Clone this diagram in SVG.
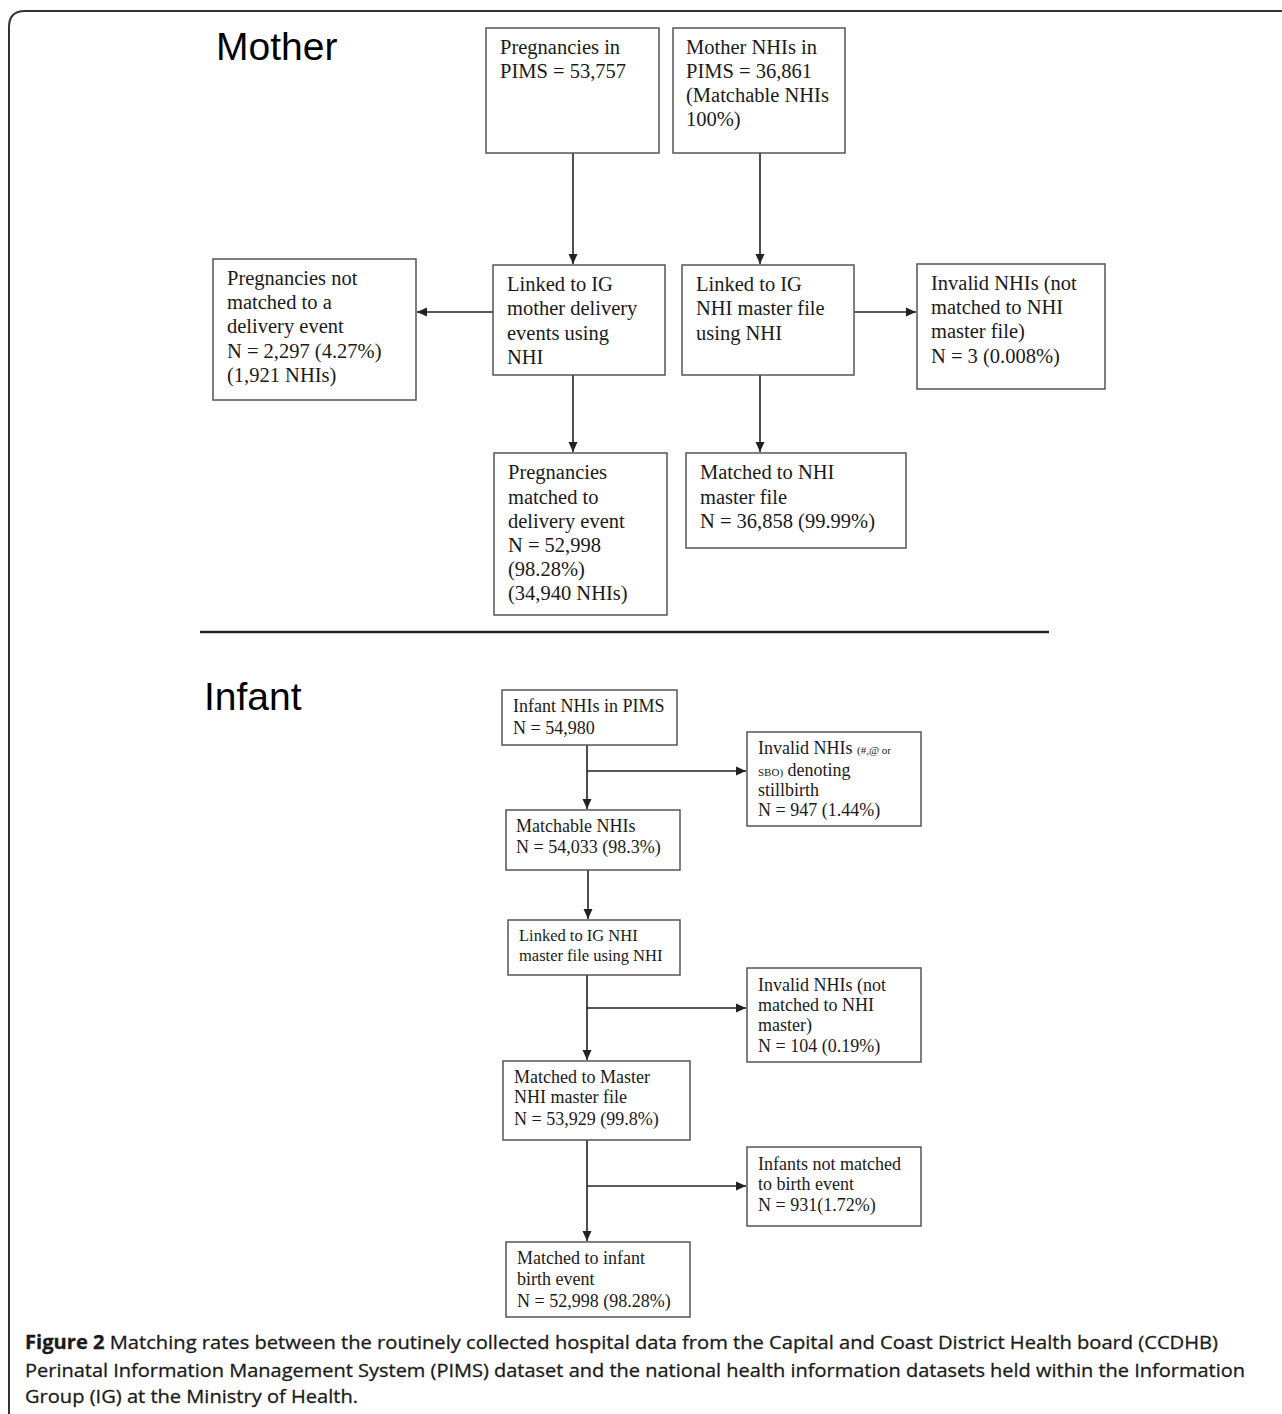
<svg xmlns="http://www.w3.org/2000/svg" width="1282" height="1414" viewBox="0 0 1282 1414">
<style>
.box{fill:#fff;stroke:#555;stroke-width:1.5}
.t{font-family:"Liberation Serif","Times New Roman",serif;font-size:20.5px;fill:#1a1a1a}
.ti{font-family:"Liberation Serif","Times New Roman",serif;font-size:18px;fill:#1a1a1a}
.ts{font-family:"Liberation Serif","Times New Roman",serif;font-size:16.5px;fill:#1a1a1a}
.sm{font-size:11px}
.h{font-family:"Liberation Sans",Arial,sans-serif;font-size:39px;fill:#000}
.cap{font-family:"Open Sans","Liberation Sans",sans-serif;font-size:19px;fill:#1a1a1a;stroke:#1a1a1a;stroke-width:0.3}
.c{fill:none;stroke:#222;stroke-width:1.6}
</style>
<defs>
<marker id="ah" viewBox="0 0 10 10" refX="10" refY="5" markerWidth="10" markerHeight="10" markerUnits="userSpaceOnUse" orient="auto">
<path d="M0,0.5 L10,5 L0,9.5 Z" fill="#222"/>
</marker>
<filter id="blur" x="-5%" y="-300%" width="110%" height="700%"><feGaussianBlur stdDeviation="1.5"/></filter>
</defs>
<rect width="1282" height="1414" fill="#fff"/>
<path d="M9,1414 L9,27 Q9,11 25,11 L1282,11" fill="none" stroke="#333" stroke-width="2"/>

<text class="h" x="216" y="60">Mother</text>
<text class="h" x="204" y="710">Infant</text>

<g id="separator">
<line x1="203" y1="637" x2="1051" y2="637" stroke="#999" stroke-width="4" opacity="0.7" filter="url(#blur)"/>
<line x1="200" y1="632" x2="1049" y2="632" stroke="#222" stroke-width="2.5"/>
</g>

<g id="connectors">
<line class="c" x1="573" y1="153" x2="573" y2="264" marker-end="url(#ah)"/>
<line class="c" x1="760" y1="153" x2="760" y2="264" marker-end="url(#ah)"/>
<line class="c" x1="493" y1="312" x2="417" y2="312" marker-end="url(#ah)"/>
<line class="c" x1="854" y1="312" x2="916" y2="312" marker-end="url(#ah)"/>
<line class="c" x1="573" y1="375" x2="573" y2="452" marker-end="url(#ah)"/>
<line class="c" x1="760" y1="375" x2="760" y2="452" marker-end="url(#ah)"/>

<line class="c" x1="587" y1="745" x2="587" y2="809" marker-end="url(#ah)"/>
<line class="c" x1="587" y1="771" x2="746" y2="771" marker-end="url(#ah)"/>
<line class="c" x1="588" y1="870" x2="588" y2="919" marker-end="url(#ah)"/>
<line class="c" x1="587" y1="975" x2="587" y2="1060" marker-end="url(#ah)"/>
<line class="c" x1="587" y1="1008" x2="746" y2="1008" marker-end="url(#ah)"/>
<line class="c" x1="587" y1="1140" x2="587" y2="1241" marker-end="url(#ah)"/>
<line class="c" x1="587" y1="1186" x2="746" y2="1186" marker-end="url(#ah)"/>
</g>

<g id="m-pregnancies">
<rect class="box" x="486" y="28" width="173" height="125"/>
<text class="t" x="500" y="54">Pregnancies in</text>
<text class="t" x="500" y="78">PIMS = 53,757</text>
</g>
<g id="m-nhis">
<rect class="box" x="673" y="28" width="172" height="125"/>
<text class="t" x="686" y="54">Mother NHIs in</text>
<text class="t" x="686" y="78">PIMS = 36,861</text>
<text class="t" x="686" y="102">(Matchable NHIs</text>
<text class="t" x="686" y="126">100%)</text>
</g>
<g id="m-linked-delivery">
<rect class="box" x="493" y="265" width="172" height="110"/>
<text class="t" x="507" y="291">Linked to IG</text>
<text class="t" x="507" y="315">mother delivery</text>
<text class="t" x="507" y="340">events using</text>
<text class="t" x="507" y="364">NHI</text>
</g>
<g id="m-linked-master">
<rect class="box" x="682" y="265" width="172" height="110"/>
<text class="t" x="696" y="291">Linked to IG</text>
<text class="t" x="696" y="315">NHI master file</text>
<text class="t" x="696" y="340">using NHI</text>
</g>
<g id="m-not-matched">
<rect class="box" x="213" y="259" width="203" height="141"/>
<text class="t" x="227" y="285">Pregnancies not</text>
<text class="t" x="227" y="309">matched to a</text>
<text class="t" x="227" y="333">delivery event</text>
<text class="t" x="227" y="358">N = 2,297 (4.27%)</text>
<text class="t" x="227" y="382">(1,921 NHIs)</text>
</g>
<g id="m-invalid">
<rect class="box" x="917" y="264" width="188" height="125"/>
<text class="t" x="931" y="290">Invalid NHIs (not</text>
<text class="t" x="931" y="314">matched to NHI</text>
<text class="t" x="931" y="338">master file)</text>
<text class="t" x="931" y="363">N = 3 (0.008%)</text>
</g>
<g id="m-matched-delivery">
<rect class="box" x="494" y="453" width="173" height="162"/>
<text class="t" x="508" y="479">Pregnancies</text>
<text class="t" x="508" y="504">matched to</text>
<text class="t" x="508" y="528">delivery event</text>
<text class="t" x="508" y="552">N = 52,998</text>
<text class="t" x="508" y="576">(98.28%)</text>
<text class="t" x="508" y="600">(34,940 NHIs)</text>
</g>
<g id="m-matched-master">
<rect class="box" x="686" y="453" width="220" height="95"/>
<text class="t" x="700" y="479">Matched to NHI</text>
<text class="t" x="700" y="504">master file</text>
<text class="t" x="700" y="528">N = 36,858 (99.99%)</text>
</g>

<g id="i-nhis">
<rect class="box" x="502" y="690" width="175" height="55"/>
<text class="ti" x="513" y="712">Infant NHIs in PIMS</text>
<text class="ti" x="513" y="734">N = 54,980</text>
</g>
<g id="i-invalid-stillbirth">
<rect class="box" x="747" y="732" width="174" height="94"/>
<text class="ti" x="758" y="754">Invalid NHIs <tspan class="sm">(#,@ or</tspan></text>
<text class="ti" x="758" y="776"><tspan class="sm">SBO)</tspan> denoting</text>
<text class="ti" x="758" y="796">stillbirth</text>
<text class="ti" x="758" y="816">N = 947 (1.44%)</text>
</g>
<g id="i-matchable">
<rect class="box" x="506" y="810" width="174" height="60"/>
<text class="ti" x="516" y="832">Matchable NHIs</text>
<text class="ti" x="516" y="853">N = 54,033 (98.3%)</text>
</g>
<g id="i-linked">
<rect class="box" x="508" y="920" width="172" height="55"/>
<text class="ts" x="519" y="941">Linked to IG NHI</text>
<text class="ts" x="519" y="961">master file using NHI</text>
</g>
<g id="i-invalid-master">
<rect class="box" x="747" y="968" width="174" height="94"/>
<text class="ti" x="758" y="991">Invalid NHIs (not</text>
<text class="ti" x="758" y="1011">matched to NHI</text>
<text class="ti" x="758" y="1031">master)</text>
<text class="ti" x="758" y="1052">N = 104 (0.19%)</text>
</g>
<g id="i-matched-master">
<rect class="box" x="503" y="1061" width="187" height="79"/>
<text class="ti" x="514" y="1083">Matched to Master</text>
<text class="ti" x="514" y="1103">NHI master file</text>
<text class="ti" x="514" y="1125">N = 53,929 (99.8%)</text>
</g>
<g id="i-not-matched">
<rect class="box" x="747" y="1147" width="174" height="79"/>
<text class="ti" x="758" y="1170">Infants not matched</text>
<text class="ti" x="758" y="1190">to birth event</text>
<text class="ti" x="758" y="1211">N = 931(1.72%)</text>
</g>
<g id="i-matched-birth">
<rect class="box" x="506" y="1242" width="184" height="75"/>
<text class="ti" x="517" y="1264">Matched to infant</text>
<text class="ti" x="517" y="1285">birth event</text>
<text class="ti" x="517" y="1307">N = 52,998 (98.28%)</text>
</g>

<g id="caption">
<text class="cap" x="25" y="1349" textLength="1193" lengthAdjust="spacingAndGlyphs"><tspan font-weight="bold">Figure 2</tspan> Matching rates between the routinely collected hospital data from the Capital and Coast District Health board (CCDHB)</text>
<text class="cap" x="25" y="1377" textLength="1220" lengthAdjust="spacingAndGlyphs">Perinatal Information Management System (PIMS) dataset and the national health information datasets held within the Information</text>
<text class="cap" x="25" y="1403" textLength="333" lengthAdjust="spacingAndGlyphs">Group (IG) at the Ministry of Health.</text>
</g>
</svg>
